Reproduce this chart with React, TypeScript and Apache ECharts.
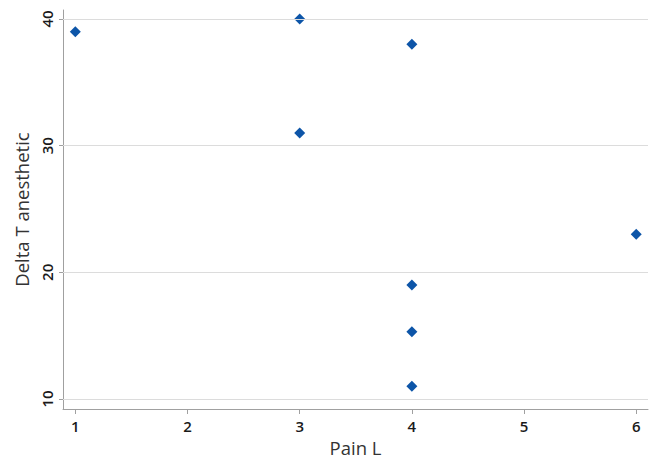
import React, { useEffect, useRef } from "react";
import * as echarts from "echarts";

const painL = [1, 3, 3, 4, 4, 4, 4, 6];
const deltaT = [39, 40, 31, 38, 19, 15.3, 11, 23];
const xTicks = [1, 2, 3, 4, 5, 6];
const yTicks = [10, 20, 30, 40];

export default function App() {
  const ref = useRef<HTMLDivElement>(null);
  useEffect(() => {
    if (!ref.current) return;
    const chart = echarts.init(ref.current, undefined, { renderer: "svg" });
    const font = "Open Sans";
    chart.setOption({
      animation: false,
      backgroundColor: "#ffffff",
      grid: { left: 63, right: 17, top: 10, bottom: 67 },
      xAxis: {
        type: "value",
        min: 0.89,
        max: 6.105,
        name: "Pain L",
        nameLocation: "middle",
        nameGap: 26,
        nameTextStyle: { fontFamily: font, fontSize: 18.5, color: "#333" },
        axisLine: { show: true, lineStyle: { color: "#a0a0a0", width: 1 } },
        axisTick: { show: true, customValues: xTicks, length: 5, lineStyle: { color: "#a0a0a0" } },
        axisLabel: { customValues: xTicks, fontFamily: font, fontSize: 15, fontWeight: 600, color: "#1a1a1a", margin: 9 },
        splitLine: { show: false },
      },
      yAxis: {
        type: "value",
        min: 9.21,
        max: 40.71,
        name: "Delta T anesthetic",
        nameLocation: "middle",
        nameGap: 32,
        nameTextStyle: { fontFamily: font, fontSize: 18.5, color: "#333" },
        axisLine: { show: true, lineStyle: { color: "#a0a0a0", width: 1 } },
        axisTick: { show: true, customValues: yTicks, length: 4, lineStyle: { color: "#a0a0a0" } },
        axisLabel: { customValues: yTicks, rotate: 90, fontFamily: font, fontSize: 15, fontWeight: 600, color: "#1a1a1a", margin: 9 },
        splitLine: { show: false },
      },
      series: [
        {
          type: "scatter",
          data: painL.map((x, i) => [x, deltaT[i]]),
          symbol: "diamond",
          symbolSize: 11,
          itemStyle: { color: "#0d55a8", opacity: 1 },
          markLine: {
            silent: true,
            symbol: "none",
            label: { show: false },
            lineStyle: { color: "#dcdcdc", type: "solid", width: 1 },
            data: yTicks.map((v) => ({ yAxis: v })),
          },
          z: 3,
        },
      ],
    });
    return () => chart.dispose();
  }, []);
  return <div ref={ref} style={{ width: 665, height: 476, position: "absolute", left: 0, top: 0 }} />;
}
